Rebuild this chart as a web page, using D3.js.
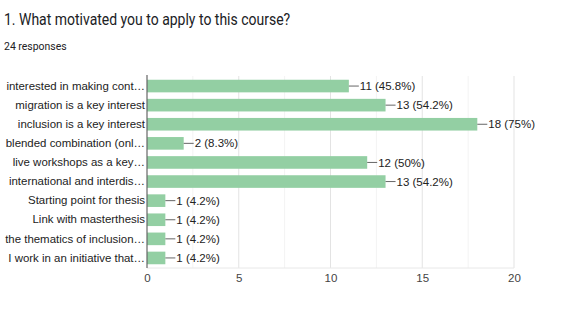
<!DOCTYPE html>
<html><head><meta charset="utf-8">
<script src="https://cdn.jsdelivr.net/npm/d3@7"></script>
<style>body{margin:0;background:#fff;}svg{display:block;}</style>
</head><body>
<svg id="c" width="578" height="314"></svg>
<script>
const categories = ["interested in making cont…","migration is a key interest","inclusion is a key interest","blended combination (onl…","live workshops as a key…","international and interdis…","Starting point for thesis","Link with masterthesis","the thematics of inclusion…","I work in an initiative that…"];
const counts = [11,13,18,2,12,13,1,1,1,1];
const percents = ["45.8%","54.2%","75%","8.3%","50%","54.2%","4.2%","4.2%","4.2%","4.2%"];
const xTicks = [0,5,10,15,20];
const minorTicks = [2.5,7.5,12.5,17.5];

const svg = d3.select("#c");
const x = d3.scaleLinear().domain([0,20]).range([147,514]);
const y = d3.scaleBand().domain(categories).range([76.5,267.5]).paddingInner(0.34).paddingOuter(0.17);

svg.append("text").attr("transform","translate(4,25) scale(0.875,1)").attr("font-family","Roboto").attr("font-size",16).attr("fill","#202124").text("1. What motivated you to apply to this course?");
svg.append("text").attr("transform","translate(4,50) scale(0.91,1)").attr("font-family","Roboto").attr("font-size",11.5).attr("fill","#202124").text("24 responses");

const g = svg.append("g");
g.selectAll(".minor").data(minorTicks).join("line").attr("x1",d=>x(d)).attr("x2",d=>x(d)).attr("y1",76).attr("y2",268).attr("stroke","#f3f3f3");
g.selectAll(".major").data(xTicks.slice(1)).join("line").attr("x1",d=>x(d)).attr("x2",d=>x(d)).attr("y1",76).attr("y2",268).attr("stroke","#e3e3e3");
g.append("line").attr("x1",147).attr("x2",514).attr("y1",268).attr("y2",268).attr("stroke","#e8e8e8");

g.selectAll(".bar").data(categories).join("rect")
 .attr("x",x(0)).attr("y",d=>y(d)).attr("height",y.bandwidth())
 .attr("width",(d,i)=>x(counts[i])-x(0)).attr("fill","#93cfa3");

g.selectAll(".lead").data(categories).join("line")
 .attr("x1",(d,i)=>x(counts[i])).attr("x2",(d,i)=>x(counts[i])+10)
 .attr("y1",d=>y(d)+y.bandwidth()/2).attr("y2",d=>y(d)+y.bandwidth()/2).attr("stroke","#666").attr("stroke-width",1);
g.selectAll(".val").data(categories).join("text")
 .attr("x",(d,i)=>x(counts[i])+11).attr("y",d=>y(d)+y.bandwidth()/2).attr("dy","0.36em")
 .attr("font-family","Liberation Sans, Arial").attr("font-size",11.5).attr("fill","#222")
 .text((d,i)=>counts[i]+" ("+percents[i]+")");

const yAxis = d3.axisLeft(y).tickSize(0).tickPadding(2);
const ya = svg.append("g").attr("transform","translate(147,0)").call(yAxis);
ya.select(".domain").remove();
ya.selectAll("text").attr("font-family","Liberation Sans, Arial").attr("font-size",11.45).attr("fill","#222");
svg.append("line").attr("x1",147).attr("x2",147).attr("y1",75).attr("y2",268).attr("stroke","#666").attr("stroke-width",1.2);

const xAxis = d3.axisBottom(x).tickValues(xTicks).tickSize(0).tickPadding(6);
const xa = svg.append("g").attr("transform","translate(0,268)").call(xAxis);
xa.select(".domain").remove();
xa.selectAll("text").attr("font-family","Liberation Sans, Arial").attr("font-size",11.5).attr("fill","#444");
</script>
</body></html>
